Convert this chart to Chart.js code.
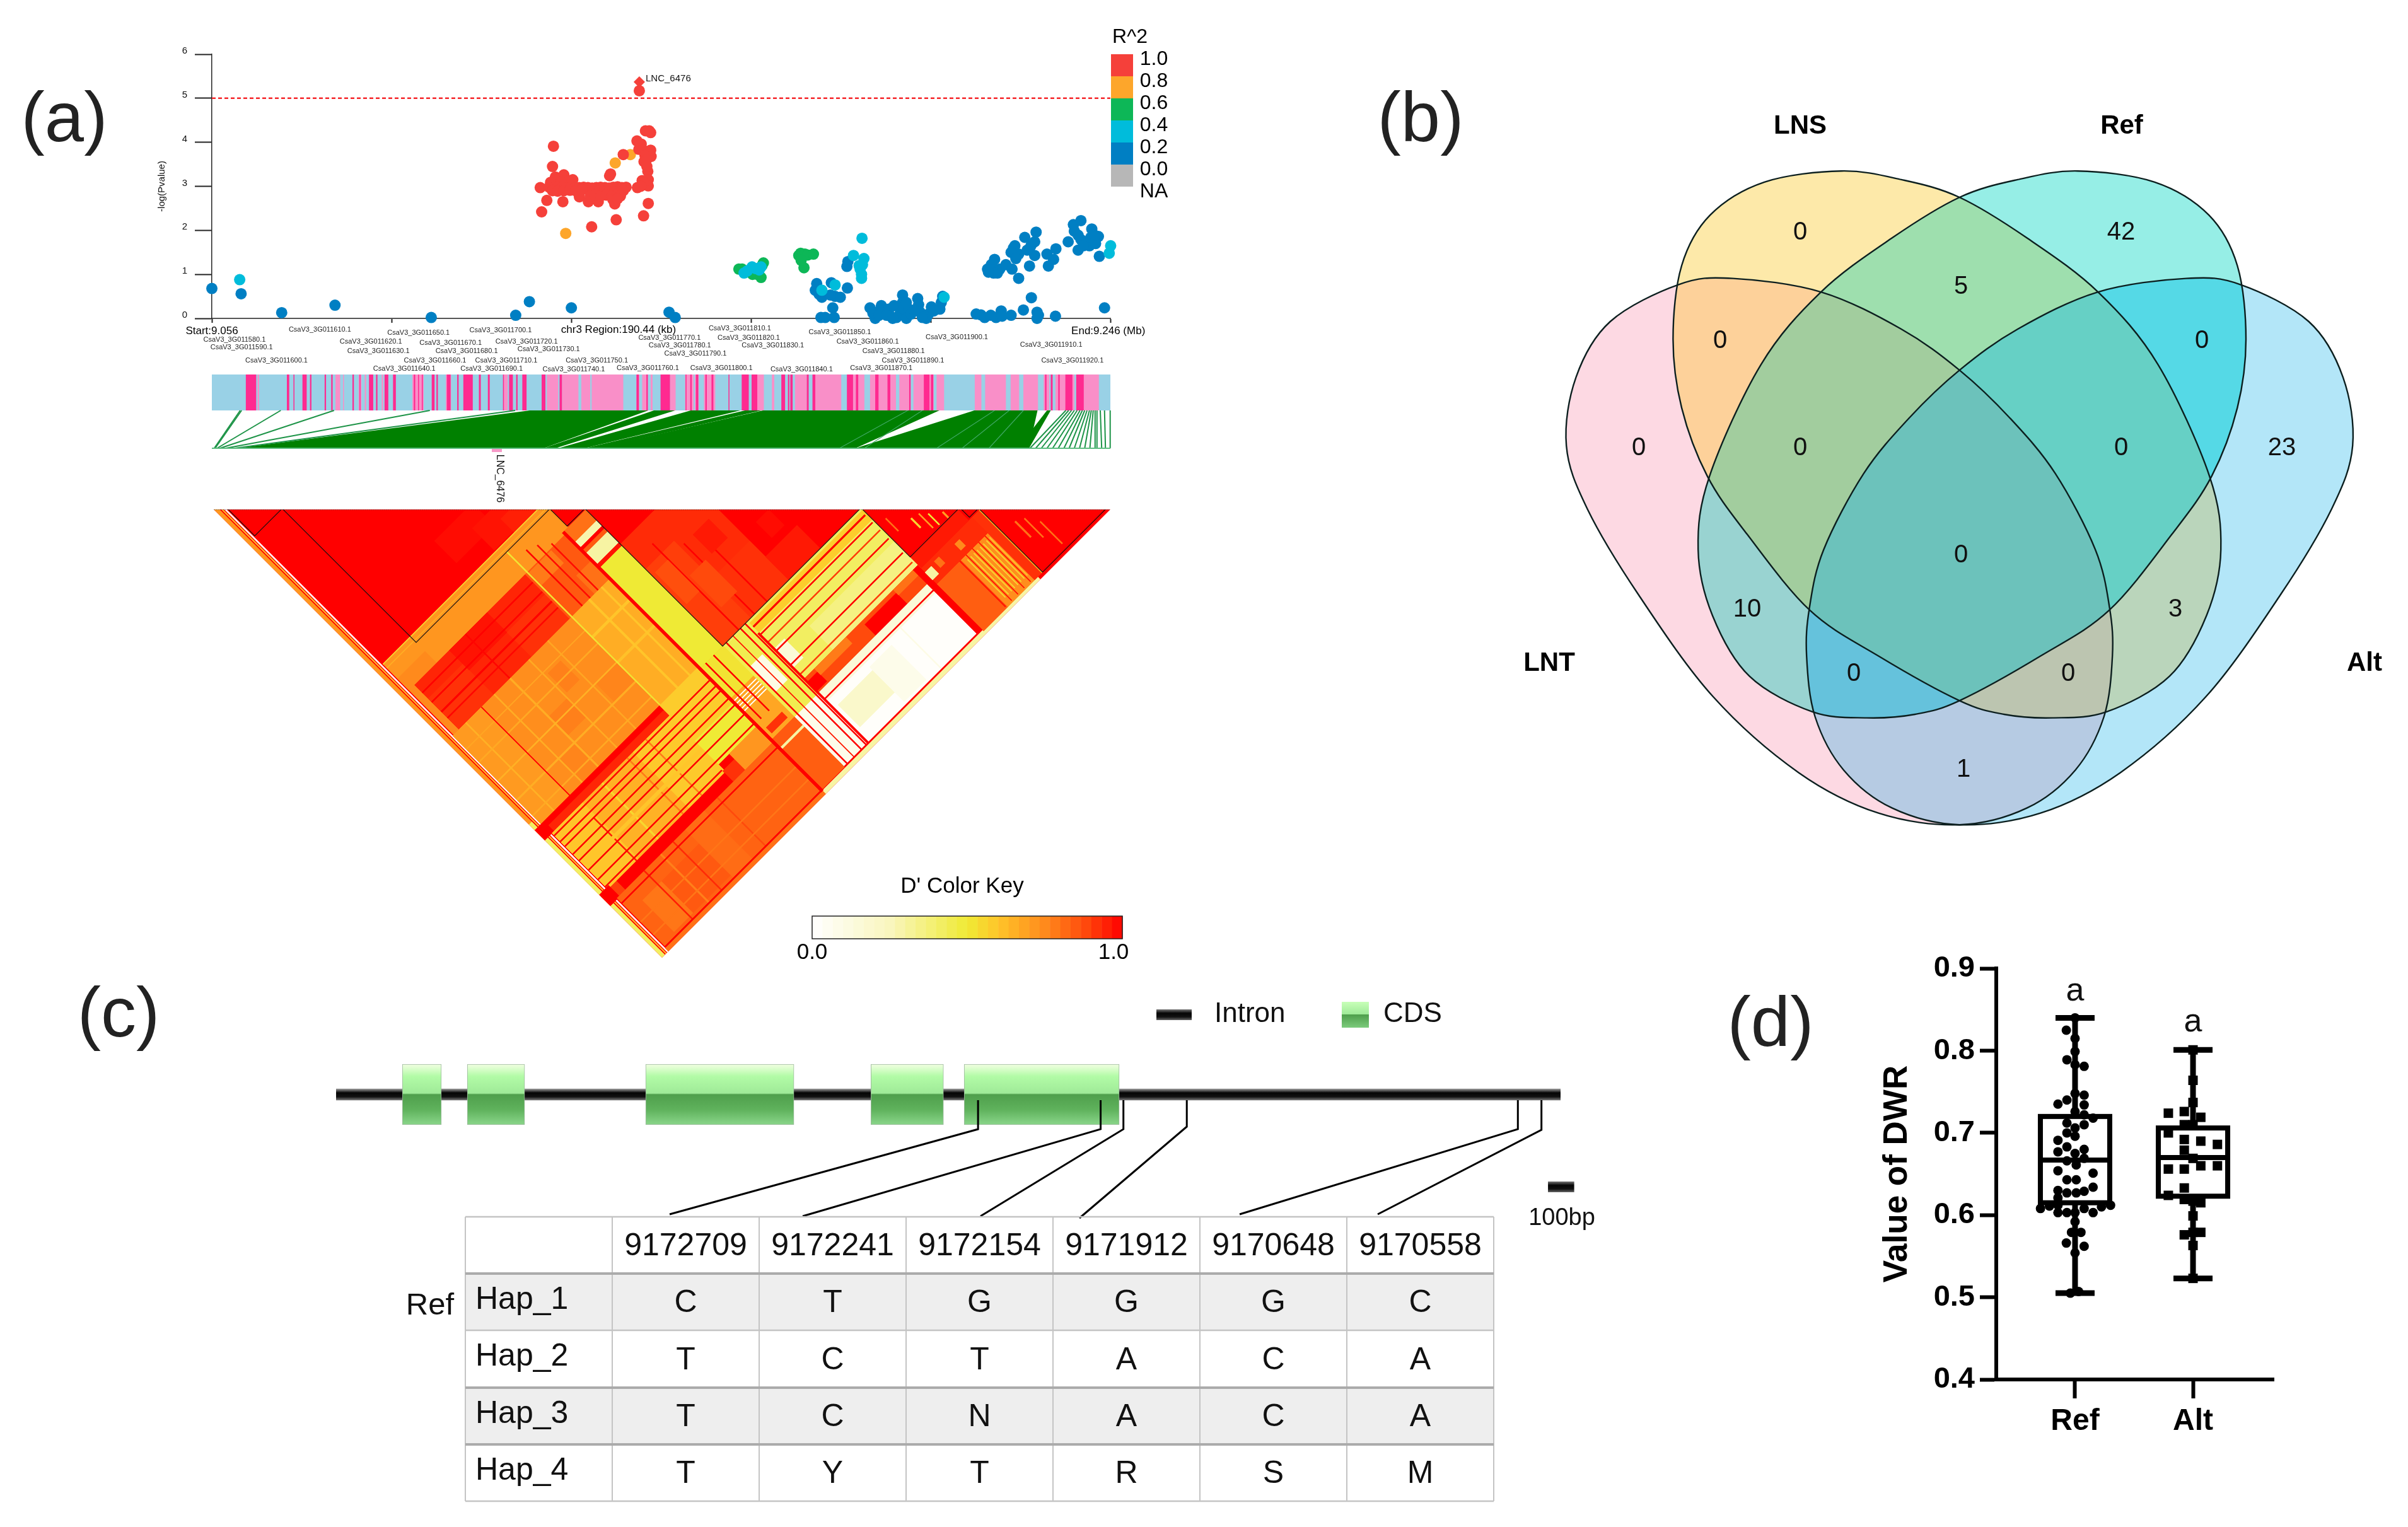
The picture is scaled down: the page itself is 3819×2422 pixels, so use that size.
<!DOCTYPE html>
<html>
<head>
<meta charset="utf-8">
<title>LNC_6476 association, Venn, haplotype and DWR panels</title>
<script src="https://cdn.jsdelivr.net/npm/chart.js@4/dist/chart.umd.min.js"></script>
<style>
  html, body { margin: 0; padding: 0; background: #fff; }
  #page { position: relative; width: 3819px; height: 2422px; overflow: hidden; background: #fff; }
  canvas { position: absolute; display: block; }
  .tag { position: absolute; font: 112px "Liberation Sans", sans-serif; color: #222; transform: translate(-50%, -50%); white-space: nowrap; }
</style>
</head>
<body>
<div id="page">
  <canvas id="assoc" width="1680" height="768" style="left:240px;top:40px"></canvas>
  <canvas id="ld" width="1480" height="730" style="left:339px;top:808px"></canvas>
  <canvas id="venn" width="1419" height="1260" style="left:2400px;top:100px"></canvas>
  <canvas id="gene" width="2100" height="840" style="left:500px;top:1560px"></canvas>
  <canvas id="dwr" width="700" height="800" style="left:2960px;top:1500px"></canvas>
  <div class="tag" style="left:102px;top:185px">(a)</div>
  <div class="tag" style="left:2253px;top:185px">(b)</div>
  <div class="tag" style="left:188px;top:1605px">(c)</div>
  <div class="tag" style="left:2808px;top:1620px">(d)</div>
</div>
<script>
// ---- panel (a): SNPs as [position in kb from region start, -log(P)] ----
const snpRed = [[90.6,5.17],[92.7,4.26],[91.9,4.26],[93.0,4.22],[90.1,4.03],[91.0,3.96],[90.5,3.84],[91.4,3.82],[93.0,3.82],[93.1,3.68],
  [91.8,3.70],[91.6,3.56],[92.1,3.60],[87.2,3.72],[92.4,3.34],[92.2,3.45],[84.5,3.28],[84.3,3.24],[92.5,3.15],[91.2,3.13],[92.5,3.01],
  [90.2,2.97],[91.5,3.08],[90.9,3.00],[72.4,3.91],[72.2,3.45],[74.6,3.26],[72.8,3.21],[71.8,3.09],[76.5,3.15],[75.5,3.12],[73.5,3.16],
  [74.0,3.10],[69.6,2.97],[71.0,2.68],[69.9,2.42],[74.4,2.65],[77.9,2.76],[79.8,2.65],[81.9,2.65],[85.4,2.60],[85.7,2.24],[80.5,2.08],
  [91.5,2.33],[92.5,2.61],[71.5,2.98],[72.5,2.97],[73.4,2.99],[74.3,2.98],[75.2,2.97],[76.1,2.98],[77.0,2.96],[77.9,2.97],[78.8,2.98],
  [79.7,2.97],[80.6,2.96],[81.5,2.97],[82.4,2.98],[83.3,2.97],[84.2,2.96],[85.1,2.98],[86.0,2.99],[86.9,2.97],[87.8,2.98],[72.2,2.90],
  [73.3,2.89],[74.6,2.90],[75.9,2.91],[77.1,2.90],[78.4,2.92],[80.9,2.88],[82.0,2.89],[83.1,2.88],[84.2,2.87],[85.3,2.88],[86.4,2.86],
  [87.2,2.90],[80.2,2.78],[81.2,2.80],[82.4,2.78],[83.6,2.80],[84.8,2.78],[85.9,2.80],[86.6,2.78],[85.0,2.70],[86.0,2.72]];
const snpOrange = [[88.7,3.72],[85.5,3.53],[75.0,1.93]];
const snpGreen = [[111.7,1.12],[112.4,1.12],[113.2,1.05],[114.6,1.00],[115.6,1.00],[116.9,1.26],[116.6,1.20],[116.4,0.93],[124.8,1.48],
  [124.4,1.43],[125.0,1.38],[125.7,1.46],[126.3,1.44],[127.5,1.46],[125.5,1.15],[124.9,1.32]];
const snpCyan = [[5.9,0.88],[112.8,1.03],[113.5,1.08],[114.5,1.17],[115.3,1.13],[116.4,1.17],[116.0,1.10],[129.3,0.64],[132.1,0.76],
  [136.0,1.43],[138.2,1.36],[137.4,1.12],[137.7,1.00],[137.7,0.91],[137.8,1.82],[137.9,1.22],[137.2,1.20],[155.2,0.48],[190.5,1.65],[190.2,1.48]];
const snpBlue = [[0,0.68],[6.2,0.56],[14.8,0.13],[26.1,0.30],[46.5,0.02],[64.4,0.07],[67.3,0.38],[76.2,0.24],[96.9,0.14],[98.2,0.02],
  [128.2,0.79],[127.9,0.64],[128.7,0.55],[129.3,0.48],[131.3,0.81],[134.7,0.69],[132.1,0.50],[133.2,0.48],[131.6,0.24],[129.1,0.02],
  [130.0,0.02],[131.9,0.02],[134.8,1.29],[134.6,1.18],[131.1,0.53],[139.5,0.24],[140.6,0],[141.9,0.29],[140.9,0.14],[142.4,0.17],[143.5,0.21],
  [143.8,0.05],[144.6,0.29],[145.1,0.02],[145.9,0.12],[146.4,0.53],[146.4,0.36],[146.7,0.21],[147.2,0],[147.7,0.21],[148.2,0.10],[149.6,0.45],
  [149.8,0.31],[150.1,0.14],[151.4,0],[151.9,0.10],[152.5,0.26],[153.0,0.17],[154.3,0.21],[154.9,0.50],[154.6,0.36],[140.1,0.12],[141.4,0.07],
  [143.0,0.07],[144.3,0],[150.6,0.02],[148.8,0.19],[147.2,0.36],[162.0,0.10],[163.0,0.08],[163.8,0.02],[165.1,0.07],[166.2,0.02],[167.3,0.17],
  [167.5,0.05],[169.4,0.07],[172.0,0.19],[173.7,0.47],[174.9,0.14],[174.9,0],[175.2,0.07],[178.8,0.05],[189.2,0.24],[164.4,1.12],[165.2,1.22],
  [165.9,1.34],[166.5,1.03],[167.0,1.12],[165.7,1.03],[164.6,1.05],[168.3,1.22],[169.6,1.12],[169.9,1.60],[171.0,1.46],[170.2,1.65],[169.4,1.50],
  [170.4,1.36],[171.0,0.91],[172.3,1.84],[173.6,1.65],[173.3,1.19],[174.7,1.96],[174.4,1.74],[174.4,1.43],[172.8,1.55],[177.3,1.19],[177.0,1.46],
  [178.4,1.34],[178.9,1.58],[181.5,1.74],[182.6,2.13],[184.2,2.22],[182.8,1.98],[183.6,1.89],[183.6,1.55],[184.2,1.79],[185.2,1.74],[186.5,2.03],
  [186.0,1.65],[187.9,1.86],[187.3,1.70],[188.1,1.41],[186.3,1.84],[184.7,1.65],[187.1,1.89]];
const leadSnp = [[90.6,5.37]];
const threshold = [[0,5],[190.44,5]];

const r2Labels = ['1.0','0.8','0.6','0.4','0.2','0.0','NA'];
const r2Colors = ['#F5403A','#FDA62B','#0DB757','#00BCDB','#007FC3','#B7B7B7'];

const geneNames = ['580','590','600','610','620','630','640','650','660','670','680','690','700','710','720','730','740','750','760','770','780',
  '790','800','810','820','830','840','850','860','870','880','890','900','910','920'];
const geneKb = [4.8,6.3,13.7,22.9,33.7,35.3,40.8,43.8,47.3,50.6,54.0,59.3,61.2,62.4,66.7,71.4,76.7,81.6,92.4,97.0,99.2,
  102.5,108.0,111.9,113.8,118.9,125.0,133.1,139.0,141.9,144.5,148.6,157.9,177.9,182.4];
const geneDrop = [34,46,67,18,37,52,80,23,67,39,52,80,19,67,37,49,81,67,79,31,43,56,79,16,31,43,81,22,37,79,52,67,30,42,67];

// annotation track, intervals in kb
const trackHot = [[7.2,9.4],[15.9,16.4],[17.3,17.5],[19.2,20.1],[20.8,21.1],[23.9,24.2],[25.3,25.6],[29.8,30.1],[31.3,31.5],[33.3,34.2],[34.8,35.1],
  [36.6,37.4],[38.4,39.0],[42.8,43.1],[43.7,43.9],[44.5,44.7],[46.6,47.2],[47.6,47.9],[49.8,50.6],[52.0,52.3],[53.3,55.3],[56.6,57.0],[58.5,58.9],
  [61.7,61.9],[63.0,63.8],[64.5,64.8],[65.8,66.7],[69.9,70.7],[73.7,74.2],[90.0,90.5],[92.1,92.4],[95.1,97.1],[100.4,100.6],[101.4,101.7],[102.6,103.1],
  [104.6,104.9],[105.9,106.3],[109.5,109.7],[112.3,113.8],[114.4,115.6],[120.7,121.5],[122.1,122.4],[122.6,123.1],[126.1,126.5],[127.3,127.9],
  [134.6,135.9],[136.5,137.0],[140.6,141.3],[143.2,143.8],[147.8,148.1],[150.9,152.1],[152.4,152.9],[176.6,176.9],[177.8,178.2],[179.4,179.7],
  [180.9,182.4],[183.2,184.8]];
const trackPale = [[9.7,10.0],[26.2,27.2],[27.8,28.0],[31.1,31.7],[32.4,32.7],[36.0,36.3],[42.5,44.9],[49.6,50.7],[61.8,62.7],[71.0,73.4],[74.2,77.7],
  [78.3,80.2],[80.5,87.2],[90.0,90.6],[91.2,92.4],[93.0,93.4],[97.1,98.3],[100.3,102.1],[102.4,103.2],[104.3,106.7],[115.6,117.0],[118.7,119.2],
  [123.6,126.1],[127.9,133.4],[135.9,138.3],[139.5,145.0],[145.7,148.1],[148.7,153.0],[153.6,155.2],[161.7,163.1],[163.9,168.3],[169.3,171.1],
  [172.0,175.1],[176.3,177.5],[178.8,182.8],[183.2,188.0]];

// green fan between the track and the evenly spaced SNP row: [topFrom, topTo, bottomFrom, bottomTo] in kb
const fanWedges = [[67.4,92.5,5.3,70.3],[93.7,98.2,70.3,72.8],[101.5,112.0,73.4,79.0],[113.0,116.5,79.0,82.0],[116.8,154.2,81.4,136.4],
  [161.6,175.0,136.4,173.2],[177.0,177.8,170.8,173.2]];
const fanLineTop = [6.0,6.3,14.6,25.9,46.2,64.3,181,181.6,182.2,182.8,183.4,184,184.5,185,185.5,186,186.4,186.8,187.2,187.6,188.3,189.2,190.4];
const fanLineBottom = [0.5,0.7,1.1,1.7,2.9,4.8,173.4,174.6,175.8,177,178.2,179.4,180.6,181.7,182.8,183.9,185,186.1,187.2,187.6,188.6,189.4,190.4];
const fanStreakTop = [150.6,147.5,165.9,169.0,172.0];
const fanStreakBottom = [138.3,133.0,153.6,159.0,164.7];

// ---- LD heatmap: [i from, i to, j from, j to, D'] on a 0-1422 SNP axis, painted in order ----
const ldPatches = [
  [0,1422,0,1422,1],
  // strips along the left edge
  [0,9,0,1000,.72],[0,9,1000,1422,.42],[12,14.5,0,1422,.62],[17,20,0,1422,0],
  // faint mottling in the first long block
  [300,420,400,470,.98],[380,500,440,510,.97],[440,510,470,513,.95],
  // orange strip under the first long block
  [23,532,515,597,.72],[23,532,513,515,.55],[23,532,525,527,.66],[23,110,560,597,.75],[391,534,532,597,.72],
  // deep red band and its neighbour
  [23,40,597,738,.75],[40,391,597,738,.94],[40,150,640,738,.92],[150,270,597,660,.97],[270,391,660,738,.92],
  [40,391,620,623,1],[40,391,650,653,1],[40,391,680,684,1],[40,391,700,703,.99],[200,203,597,738,.99],
  [391,534,597,738,.85],[400,470,600,640,.78],[470,534,680,738,.8],[430,433,560,738,1],[455,458,570,738,.98],[480,483,590,738,.98],
  // big orange diamond
  [20,396,738,1018,.74],[20,110,738,1018,.71],[270,310,790,850,.77],[200,260,860,920,.77],[330,396,880,940,.76],[150,205,940,1018,.76],
  [200,204,738,1018,.66],[150,153,738,1018,.66],[260,263,738,1018,.67],[320,323,738,1018,.68],[60,63,738,1018,.65],
  [20,396,820,823,.67],[20,396,880,883,.65],[20,396,940,944,.66],[20,396,780,782,.68],[20,396,990,993,.67],
  [110,112,738,1018,1],
  [399,525,738,1018,.66],[399,525,800,806,.6],[399,525,880,886,.61],[450,455,738,1018,.6],[490,494,738,1018,.6],
  [396,399,532,1018,.52],
  // first thick band and the stripes below it
  [0,396,1018,1050,1],[30,396,1032,1050,.94],
  [23,396,1050,1228,.65],[23,120,1050,1228,.6],[280,396,1050,1228,.59],[180,184,1050,1228,.55],[260,263,1050,1228,.78],[319,322,1050,1228,.78],
  [112,115,1090,1228,.95],[23,396,1150,1158,.6],
  [396,518,1018,1130,.58],[396,518,1130,1205,.5],[392,430,1222,1256,.92],[430,518,1205,1256,.72],
  [23,518,1056,1059,1],[23,518,1075,1078,1],[23,518,1090,1093,1],[23,518,1115,1118,1],[23,518,1135,1138,1],[23,518,1165,1168,1],[23,518,1195,1198,1],[23,392,1218,1221,1],
  // second thick band, bottom corner
  [0,50,1228,1256,.9],[50,392,1228,1256,1],[0,30,1222,1258,1],
  [23,520,1256,1412,.83],[120,240,1300,1400,.85],[60,120,1300,1400,.79],[240,300,1256,1412,.81],[160,164,1256,1412,.77],[340,343,1256,1412,.88],
  [23,520,1330,1333,.79],[23,520,1370,1373,.79],[108,111,1256,1410,.95],[200,203,1256,1410,.93],[23,520,1270,1273,1],[23,520,1408,1412,1],[20,520,1412,1422,.8],
  // re-cut the left strips through the bands
  [0,9,1058,1222,.42],[17,20,1058,1222,0],
  // yellow block with its pale head
  [522,590,590,625,.8],[522,590,625,642,.28],[522,590,642,650,1],[522,590,650,660,.85],[522,590,660,695,.3],[522,590,695,705,.97],[522,590,705,1024,.5],
  // red thick column
  [515,522,590,1412,1],
  // second long block, tinted at its lower left
  [590,800,700,1024,.93],[590,680,780,1024,.9],[680,800,900,1024,.92],[800,900,950,1024,.96],[640,643,750,1024,1],[690,693,800,1024,1],[730,733,850,1024,1],
  [600,640,800,900,.87],[650,700,860,960,.88],[720,770,800,860,.96],[840,880,880,930,.98],
  // pale yellow stripes
  [590,1029,1024,1205,.42],[590,1029,1030,1060,.58],[640,700,1110,1170,.15],[590,640,1060,1110,.6],[760,1029,1130,1205,.36],
  [600,1024,1040,1044,1],[600,1024,1064,1067,1],[600,1024,1088,1091,.9],[600,1024,1115,1118,1],[600,1024,1160,1163,1],[600,1024,1190,1193,.9],
  // dotted red-orange band
  [600,1030,1205,1250,.88],[600,700,1215,1245,1],[700,800,1205,1225,.78],[850,950,1215,1250,1],[950,1030,1205,1222,.8],
  // white box
  [669,1013,1250,1277,.15],[669,1013,1268,1271,1],[669,1013,1277,1409,.02],[680,790,1300,1370,.2],[790,860,1290,1400,.08],[900,903,1277,1409,.1],
  [592,669,1250,1409,.08],[590,669,1030,1250,.45],[600,640,1100,1180,.1],
  [600,603,1024,1409,1],[622,624,1024,1409,.95],[645,648,1024,1409,1],[660,663,1024,1409,1],[665,670,1060,1412,1],
  [520,1030,1407,1411,1],[520,1200,1411,1422,.3],
  // column between the red column and the white box
  [522,592,1024,1120,.52],[522,592,1120,1250,.68],[522,592,1128,1130,0],[522,592,1136,1138,0],[522,592,1144,1146,0],[522,592,1152,1154,0],[522,592,1160,1162,0],
  [530,580,1222,1240,.92],[522,592,1250,1282,.85],[522,592,1276,1282,.3],[522,592,1282,1409,.84],[535,538,1024,1200,1],[560,563,1024,1200,1],
  [515,522,1024,1412,1],
  // stripes against the last long block
  [1028,1105,1265,1414,.84],[1105,1190,1265,1414,.74],[1190,1212,1215,1414,.92],[1028,1190,1215,1265,.93],
  [1115,1117,1275,1395,.55],[1125,1127,1275,1395,.55],[1135,1137,1275,1395,.55],[1145,1147,1275,1395,.55],[1155,1157,1275,1395,.55],[1165,1167,1275,1395,.55],
  [1175,1177,1275,1395,.55],[1185,1187,1275,1395,.6],[1100,1103,1265,1410,.96],[1120,1122,1265,1410,.96],[1140,1142,1265,1410,.96],[1160,1162,1265,1410,.96],
  [1180,1182,1265,1410,.96],[1013,1028,1205,1410,1],[1028,1048,1228,1252,.3],[1029,1180,1180,1215,.96],
  // speckle inside the right blocks
  [1212,1215,1215,1414,.7],[1250,1254,1290,1340,.8],[1270,1273,1300,1360,.8],[1290,1293,1330,1400,.8],[1090,1094,1120,1150,.55],[1110,1113,1125,1170,.7],
  [1125,1128,1140,1175,.5],[1050,1053,1080,1120,.8],[1150,1154,1160,1178,.7],[1060,1075,1225,1245,.8],[1120,1135,1230,1250,.75]
];
// LD blocks outlined in black: [first SNP, last SNP]
const ldBlocks = [[23,107],[110,532],[534,587],[590,1024],[1029,1180],[1186,1211],[1215,1414]];
const ldStops = [0,.25,.5,.6,.75,.88,1];
const ldRamp = [[255,255,255],[249,246,190],[239,234,53],[255,197,42],[255,138,28],[255,74,12],[255,0,0]];

// ---- panel (b) ----
const vennSets = ['LNS','Ref','LNT','Alt'];
const vennLNTx = [348.4,488.7,615.4,707.7,787.3,859.7,923.1,945.7,950.2,936.7,891.4,814.5,707.7,579.2,452.5,316.7,199.1,117.6,84.2,99.5,153.8,262.4];
const vennAltx = [1067,926.7,800,707.7,628.1,555.7,492.3,469.7,465.2,478.7,524,600.9,707.7,836.2,962.9,1098.7,1216.3,1297.8,1331.2,1315.9,1261.6,1153];
const vennBigY = [341.6,363.3,422,487.1,562.7,651.1,771.7,864.1,940.5,1037,1121.4,1181.7,1208.2,1189.7,1125.4,1004.8,844,707.4,606.9,498.4,410,351.3];
const vennLNSx = [520.4,615.4,707.7,814.5,927.6,1022.6,1104.1,1122.2,1099.5,1040.7,941.2,855.2,778.3,707.7,579.2,470.6,371,307.7,267,253.4,267,312.2,398.2];
const vennRefx = [895,800,707.7,600.9,487.8,392.8,311.3,293.2,315.9,374.7,474.2,560.2,637.1,707.7,836.2,944.8,1044.4,1107.7,1148.4,1162,1148.4,1103.2,1017.2];
const vennTopY = [171.2,184.9,213,277.3,363.3,478.3,655.1,771.7,876.2,972.7,1028.9,1038.6,1033,1011.3,940.5,868.2,747.6,655.1,546.6,438.1,321.5,241.2,188.9];
const vennCounts = ['0','42','5','0','0','0','0','0','23','0','10','3','0','0','1'];
const vennCountX = [455,964,710,328,1092,199,455,964,1219,710,371,1050,540,880,714];
const vennCountY = [269,269,355,441,441,611,611,611,611,781,867,867,969,969,1121];
// overlap colours, T=LNT N=LNS R=Ref A=Alt, singles first so bigger overlaps paint over them
const vennRegions = ['T','N','R','A','TN','NR','RA','TR','NA','TA','TNR','NRA','TRA','TNA','TNRA'];
const vennRegionColors = ['#FDD9E3','#FDE9A9','#96EEE6','#B3E6F8','#FDD19A','#9EDFAE','#55D9E6','#99D3D1','#BAD5BB','#B6CBE3','#A2CD9E','#66D0C5','#65C2DC','#BCC5B0','#6CC2BB'];

// ---- panel (c) ----
const exonStart = [9174907,9174659,9173978,9173118,9172762];
const exonEnd = [9174758,9174440,9173412,9172841,9172170];
const geneSpan = [9175160,9170485];
const snpSites = [9172709,9172241,9172154,9171912,9170648,9170558];
const hapNames = ['Hap_1','Hap_2','Hap_3','Hap_4'];
const hapAlleles = [['C','T','G','G','G','C'],['T','C','T','A','C','A'],['T','C','N','A','C','A'],['T','Y','T','R','S','M']];

// ---- panel (d) ----
const dwrGroups = ['Ref','Alt'];
const dwrQ1 = [.615,.623], dwrMedian = [.667,.670], dwrQ3 = [.720,.706], dwrLow = [.505,.523], dwrHigh = [.840,.801];
const dwrRef = [[-.04,.505],[.03,.507],[0,.554],[-.074,.566],[.077,.562],[-.03,.579],[.05,.579],[0,.592],[-.145,.603],[-.069,.603],[0,.603],[.077,.608],[.153,.603],
  [-.293,.608],[-.217,.611],[-.145,.612],[.224,.610],[.301,.612],[-.145,.621],[-.145,.630],[-.069,.627],[.01,.627],[.077,.629],[.153,.634],[-.069,.643],[.01,.643],
  [-.145,.654],[.153,.651],[.01,.661],[-.069,.666],[.077,.669],[-.145,.677],[0,.675],[.077,.680],[-.069,.683],[-.145,.691],[-.069,.700],[0,.696],[-.069,.712],
  [0,.706],[.077,.710],[.153,.718],[.077,.722],[0,.726],[-.145,.735],[-.069,.740],[0,.748],[.077,.734],[.077,.746],[.077,.781],[0,.783],[-.069,.789],[0,.799],
  [0,.815],[-.074,.825],[0,.840]];
const dwrAlt = [[1,.523],[1,.563],[.926,.576],[1,.579],[1.066,.579],[1,.599],[.926,.619],[1,.617],[1.066,.615],[.791,.624],[.926,.633],[.791,.656],[.926,.656],
  [1.066,.660],[1.207,.660],[1,.669],[.926,.679],[.926,.692],[1.066,.690],[1.207,.686],[.791,.700],[.926,.710],[1,.710],[1.066,.719],[.926,.726],[.791,.724],
  [1,.737],[1,.764],[1,.801]];

const SANS = '"Liberation Sans", Arial, sans-serif';
const toXY = p => ({ x: p[0], y: p[1] });

function txt(ctx, s, x, y, font, align, color) {
  ctx.font = font;
  ctx.textAlign = align || 'center';
  ctx.textBaseline = 'middle';
  ctx.fillStyle = color || '#000';
  ctx.fillText(s, x, y);
}

function ldColor(v) {
  let k = 1;
  while (k < ldStops.length - 1 && v > ldStops[k]) k++;
  const t = (v - ldStops[k - 1]) / (ldStops[k] - ldStops[k - 1]);
  const c = ldRamp[k - 1].map((a, n) => Math.round(a + (ldRamp[k][n] - a) * t));
  return `rgb(${c[0]},${c[1]},${c[2]})`;
}

function baseOptions(padding) {
  return {
    responsive: false,
    animation: false,
    devicePixelRatio: 1,
    layout: { padding, autoPadding: false },
    plugins: { legend: { display: false }, tooltip: { enabled: false } }
  };
}

// ---- panel (a) chart ----
const assocPlugin = {
  id: 'assocExtras',
  beforeDatasetsDraw(chart) {
    const { ctx, scales: { x } } = chart;
    const px = v => x.getPixelForValue(v);
    const trackTop = 554, trackBottom = 611, fanBottom = 671;
    ctx.save();
    // track
    ctx.fillStyle = '#99D1E6';
    ctx.fillRect(px(0), trackTop, px(190.44) - px(0), trackBottom - trackTop);
    ctx.fillStyle = '#F98FC8';
    trackPale.forEach(s => ctx.fillRect(px(s[0]), trackTop, px(s[1]) - px(s[0]), trackBottom - trackTop));
    ctx.fillStyle = '#FF2A90';
    trackHot.forEach(s => ctx.fillRect(px(s[0]), trackTop, px(s[1]) - px(s[0]), trackBottom - trackTop));
    // fan
    ctx.fillStyle = '#008000';
    fanWedges.forEach(w => {
      ctx.beginPath();
      ctx.moveTo(px(w[0]), trackBottom);
      ctx.lineTo(px(w[1]), trackBottom);
      ctx.lineTo(px(w[3]), fanBottom);
      ctx.lineTo(px(w[2]), fanBottom);
      ctx.closePath();
      ctx.fill();
    });
    ctx.strokeStyle = '#1E9448';
    ctx.lineWidth = 2;
    fanLineTop.forEach((t, n) => {
      ctx.beginPath();
      ctx.moveTo(px(t), trackBottom);
      ctx.lineTo(px(fanLineBottom[n]), fanBottom);
      ctx.stroke();
    });
    ctx.strokeStyle = '#3FA865';
    ctx.lineWidth = 1.2;
    fanStreakTop.forEach((t, n) => {
      ctx.beginPath();
      ctx.moveTo(px(t), trackBottom);
      ctx.lineTo(px(fanStreakBottom[n]), fanBottom);
      ctx.stroke();
    });
    ctx.fillStyle = '#5DBE80';
    ctx.fillRect(px(0), fanBottom - 1, px(190.44) - px(0), 2);
    // LNC_6476 tag under the fan
    ctx.fillStyle = '#F79AC8';
    ctx.fillRect(540, fanBottom + 1, 16, 5);
    ctx.translate(552, 719);
    ctx.rotate(Math.PI / 2);
    txt(ctx, 'LNC_6476', 0, 0, `16px ${SANS}`, 'center', '#111');
    ctx.restore();
  },
  afterDatasetsDraw(chart) {
    const { ctx, scales: { x, y } } = chart;
    txt(ctx, 'LNC_6476', 784, 85, `15px ${SANS}`, 'left', '#111');
    // axis captions
    txt(ctx, 'Start:9.056', x.getPixelForValue(0), 485, `17px ${SANS}`);
    txt(ctx, 'chr3 Region:190.44 (kb)', x.getPixelForValue(86.2), 483, `17px ${SANS}`);
    txt(ctx, 'End:9.246 (Mb)', x.getPixelForValue(190), 485, `17px ${SANS}`);
    // gene names
    geneNames.forEach((g, n) => {
      txt(ctx, 'CsaV3_3G011' + g + '.1', x.getPixelForValue(geneKb[n]), y.getPixelForValue(0) + geneDrop[n], `11px ${SANS}`, 'center', '#222');
    });
    // R^2 legend
    txt(ctx, 'R^2', 1552, 19, `32px ${SANS}`);
    r2Colors.forEach((c, n) => {
      ctx.fillStyle = c;
      ctx.fillRect(1522, 46 + n * 35, 35, 35);
    });
    r2Labels.forEach((l, n) => txt(ctx, l, 1590, 54 + n * 35, `32px ${SANS}`));
  }
};

function snpSet(points, color) {
  return { data: points.map(toXY), backgroundColor: color, borderWidth: 0, pointRadius: 9, clip: false };
}

new Chart(document.getElementById('assoc'), {
  type: 'scatter',
  data: {
    datasets: [
      { data: leadSnp.map(toXY), backgroundColor: r2Colors[0], pointStyle: 'rectRot', pointRadius: 9, borderWidth: 0, clip: false },
      snpSet(snpCyan, r2Colors[3]),
      snpSet(snpRed, r2Colors[0]),
      snpSet(snpOrange, r2Colors[1]),
      snpSet(snpGreen, r2Colors[2]),
      snpSet(snpBlue, r2Colors[4]),
      { data: threshold.map(toXY), showLine: true, borderColor: '#F5262A', borderWidth: 2.5, borderDash: [6, 4], pointRadius: 0 }
    ]
  },
  options: Object.assign(baseOptions({ left: 0, top: 46, right: 159, bottom: 273 }), {
    scales: {
      x: {
        type: 'linear', min: 0, max: 190.44,
        afterFit(s) { s.height = 30; },
        afterBuildTicks(s) { s.ticks = [0, 38.088, 76.176, 114.264, 152.352, 190.44].map(value => ({ value })); },
        grid: { drawOnChartArea: false, tickLength: 7, tickWidth: 2, tickColor: '#222' },
        border: { color: '#555', width: 2 },
        ticks: { display: false }
      },
      y: {
        type: 'linear', min: 0, max: 6,
        afterFit(s) { s.width = 96; },
        grid: { drawOnChartArea: false, tickLength: 27, tickWidth: 2, tickColor: '#222' },
        border: { color: '#222', width: 1.5 },
        ticks: { stepSize: 1, padding: 12, labelOffset: -5, color: '#111', font: { family: SANS, size: 15 } },
        title: { display: true, text: '-log(Pvalue)', color: '#111', padding: { top: 8, bottom: 0 }, font: { family: SANS, size: 15 } }
      }
    }
  }),
  plugins: [assocPlugin]
});

// ---- LD heatmap chart ----
const ldPlugin = {
  id: 'ldCells',
  beforeDatasetsDraw(chart) {
    const { ctx, scales: { x, y } } = chart;
    const pt = (i, j) => [x.getPixelForValue((i + j) / 2), y.getPixelForValue((j - i) / 2)];
    ctx.save();
    ctx.beginPath();
    ctx.moveTo(...pt(0, 0));
    ctx.lineTo(...pt(1422, 1422));
    ctx.lineTo(...pt(0, 1422));
    ctx.closePath();
    ctx.clip();
    ctx.lineWidth = 0.6;
    ldPatches.forEach(p => {
      const c = ldColor(p[4]);
      ctx.fillStyle = c;
      ctx.strokeStyle = c;
      ctx.beginPath();
      ctx.moveTo(...pt(p[0], p[2]));
      ctx.lineTo(...pt(p[1], p[2]));
      ctx.lineTo(...pt(p[1], p[3]));
      ctx.lineTo(...pt(p[0], p[3]));
      ctx.closePath();
      ctx.fill();
      ctx.stroke();
    });
    ctx.restore();
    ctx.save();
    ctx.strokeStyle = '#111';
    ctx.lineWidth = 1.1;
    ldBlocks.forEach(b => {
      ctx.beginPath();
      ctx.moveTo(...pt(b[0], b[0]));
      ctx.lineTo(...pt(b[0], b[1]));
      ctx.lineTo(...pt(b[1], b[1]));
      ctx.stroke();
    });
    ctx.setLineDash([2, 1]);
    ctx.strokeStyle = '#333';
    ctx.beginPath();
    ctx.moveTo(...pt(0, 0));
    ctx.lineTo(...pt(1422, 1422));
    ctx.stroke();
    ctx.restore();
    // colour key
    const left = 949, top = 645, w = 492, h = 36, bins = 30;
    for (let n = 0; n < bins; n++) {
      ctx.fillStyle = ldColor((n + 0.5) / bins);
      ctx.fillRect(left + n * w / bins, top, w / bins + 0.5, h);
    }
    ctx.strokeStyle = '#222';
    ctx.lineWidth = 1.5;
    ctx.strokeRect(left, top, w, h);
    txt(ctx, "D' Color Key", 1187, 598, `35px ${SANS}`);
    txt(ctx, '0.0', 949, 703, `35px ${SANS}`);
    txt(ctx, '1.0', 1427, 703, `35px ${SANS}`);
  }
};

new Chart(document.getElementById('ld'), {
  type: 'scatter',
  data: { datasets: [] },
  options: Object.assign(baseOptions({ left: 0, top: 0, right: 58, bottom: 19 }), {
    scales: {
      x: { type: 'linear', min: 0, max: 1422, display: false },
      y: { type: 'linear', min: 0, max: 711, reverse: true, display: false }
    }
  }),
  plugins: [ldPlugin]
});

// ---- panel (b) chart ----
function blobPath(ctx, xs, ys, sx, sy) {
  const n = xs.length;
  const P = k => [sx.getPixelForValue(xs[(k + n) % n]), sy.getPixelForValue(ys[(k + n) % n])];
  ctx.beginPath();
  ctx.moveTo(...P(0));
  for (let k = 0; k < n; k++) {
    const a = P(k - 1), b = P(k), c = P(k + 1), d = P(k + 2);
    ctx.bezierCurveTo(b[0] + (c[0] - a[0]) / 6, b[1] + (c[1] - a[1]) / 6, c[0] - (d[0] - b[0]) / 6, c[1] - (d[1] - b[1]) / 6, c[0], c[1]);
  }
  ctx.closePath();
}

const vennPlugin = {
  id: 'vennShapes',
  afterDatasetsDraw(chart) {
    const { ctx, width, height, scales: { x, y } } = chart;
    const shapes = { T: [vennLNTx, vennBigY], A: [vennAltx, vennBigY], N: [vennLNSx, vennTopY], R: [vennRefx, vennTopY] };
    vennRegions.forEach((r, n) => {
      ctx.save();
      r.split('').forEach(key => {
        blobPath(ctx, shapes[key][0], shapes[key][1], x, y);
        ctx.clip();
      });
      ctx.fillStyle = vennRegionColors[n];
      ctx.fillRect(0, 0, width, height);
      ctx.restore();
    });
    ctx.save();
    ctx.strokeStyle = '#0C1F1F';
    ctx.lineWidth = 2.4;
    Object.values(shapes).forEach(s => {
      blobPath(ctx, s[0], s[1], x, y);
      ctx.stroke();
    });
    ctx.restore();
    vennCounts.forEach((c, n) => txt(ctx, c, x.getPixelForValue(vennCountX[n]), y.getPixelForValue(vennCountY[n]), `40px ${SANS}`, 'center', '#111'));
    const bold = `bold 42px ${SANS}`;
    txt(ctx, vennSets[0], x.getPixelForValue(455), y.getPixelForValue(100), bold);
    txt(ctx, vennSets[1], x.getPixelForValue(965), y.getPixelForValue(100), bold);
    txt(ctx, vennSets[2], x.getPixelForValue(57), y.getPixelForValue(952), bold);
    txt(ctx, vennSets[3], x.getPixelForValue(1350), y.getPixelForValue(952), bold);
  }
};

new Chart(document.getElementById('venn'), {
  type: 'scatter',
  data: { datasets: [] },
  options: Object.assign(baseOptions(0), {
    scales: {
      x: { type: 'linear', min: 0, max: 1419, display: false },
      y: { type: 'linear', min: 0, max: 1260, reverse: true, display: false }
    }
  }),
  plugins: [vennPlugin]
});

// ---- panel (c) chart ----
function exonFill(c) {
  const a = c.chart.chartArea;
  if (!a) return '#8FDB8F';
  const mid = (a.top + a.bottom) / 2;
  const g = c.chart.ctx.createLinearGradient(0, mid - 48, 0, mid + 48);
  g.addColorStop(0, '#F2FFE2');
  g.addColorStop(0.2, '#B2FBA6');
  g.addColorStop(0.48, '#9FEA98');
  g.addColorStop(0.5, '#4F9F4C');
  g.addColorStop(0.75, '#5FB25C');
  g.addColorStop(1, '#8AD68A');
  return g;
}
function intronFill(c) {
  const a = c.chart.chartArea;
  if (!a) return '#000';
  const mid = (a.top + a.bottom) / 2;
  const g = c.chart.ctx.createLinearGradient(0, mid - 9, 0, mid + 9);
  g.addColorStop(0, '#9A9A9A');
  g.addColorStop(0.35, '#050505');
  g.addColorStop(0.7, '#111');
  g.addColorStop(1, '#777');
  return g;
}

const genePlugin = {
  id: 'geneExtras',
  afterDatasetsDraw(chart) {
    const { ctx, scales: { x } } = chart;
    const down = [231, 231, 231, 227, 231, 232];
    const endX = [562, 773, 1055, 1212, 1466, 1685];
    const endY = [366, 369, 369, 372, 366, 366];
    ctx.save();
    ctx.strokeStyle = '#000';
    ctx.lineWidth = 3;
    snpSites.forEach((s, n) => {
      ctx.beginPath();
      ctx.moveTo(x.getPixelForValue(s), 185);
      ctx.lineTo(x.getPixelForValue(s), down[n]);
      ctx.lineTo(endX[n], endY[n]);
      ctx.stroke();
    });
    ctx.restore();

    // legend
    let g = ctx.createLinearGradient(0, 41, 0, 58);
    g.addColorStop(0, '#777'); g.addColorStop(0.35, '#050505'); g.addColorStop(0.7, '#111'); g.addColorStop(1, '#666');
    ctx.fillStyle = g;
    ctx.fillRect(1334, 41, 56, 17);
    txt(ctx, 'Intron', 1426, 49, `44px ${SANS}`, 'left', '#111');
    g = ctx.createLinearGradient(0, 29, 0, 70);
    g.addColorStop(0, '#C8FFB8'); g.addColorStop(0.48, '#9FEA98'); g.addColorStop(0.5, '#4F9F4C'); g.addColorStop(1, '#7CCB7C');
    ctx.fillStyle = g;
    ctx.fillRect(1628, 29, 43, 41);
    txt(ctx, 'CDS', 1694, 49, `44px ${SANS}`, 'left', '#111');

    // 100 bp scale bar, sized by the axis
    g = ctx.createLinearGradient(0, 314, 0, 331);
    g.addColorStop(0, '#777'); g.addColorStop(0.35, '#050505'); g.addColorStop(0.7, '#111'); g.addColorStop(1, '#666');
    ctx.fillStyle = g;
    const barL = x.getPixelForValue(9170533), barR = x.getPixelForValue(9170433);
    ctx.fillRect(barL, 314, barR - barL, 17);
    txt(ctx, '100bp', 1977, 373, `38px ${SANS}`, 'center', '#111');

    // haplotype table
    const left = 238, col = 233, top = 370, rows = [0, 90, 180, 271, 361, 451];
    ctx.fillStyle = '#EEEEEE';
    ctx.fillRect(left, top + rows[1], col * 7, rows[2] - rows[1]);
    ctx.fillRect(left, top + rows[3], col * 7, rows[4] - rows[3]);
    ctx.strokeStyle = '#C4C4C4';
    ctx.lineWidth = 2;
    for (let n = 0; n <= 7; n++) {
      ctx.beginPath();
      ctx.moveTo(left + n * col, top);
      ctx.lineTo(left + n * col, top + rows[5]);
      ctx.stroke();
    }
    rows.forEach((r, n) => {
      ctx.strokeStyle = (n === 1 || n === 3 || n === 4) ? '#ABABAB' : '#C4C4C4';
      ctx.lineWidth = (n === 1 || n === 3 || n === 4) ? 4 : 2.5;
      ctx.beginPath();
      ctx.moveTo(left, top + r);
      ctx.lineTo(left + col * 7, top + r);
      ctx.stroke();
    });
    snpSites.forEach((s, n) => txt(ctx, String(s), left + col * (n + 1.5), 417, `50px ${SANS}`, 'center', '#111'));
    hapNames.forEach((h, r) => {
      txt(ctx, h, 254, [502, 592, 683, 773][r], `50px ${SANS}`, 'left', '#111');
      hapAlleles[r].forEach((a, n) => txt(ctx, a, left + col * (n + 1.5), [507, 598, 688, 778][r], `50px ${SANS}`, 'center', '#111'));
    });
    txt(ctx, 'Ref', 182, 511, `49px ${SANS}`, 'center', '#111');
  }
};

new Chart(document.getElementById('gene'), {
  type: 'bar',
  data: {
    labels: ['gene'],
    datasets: exonStart.map((s, n) => ({
      data: [[s, exonEnd[n]]], backgroundColor: exonFill, barThickness: 96, borderColor: '#9DB89D', borderWidth: 1, borderSkipped: false
    })).concat([{ data: [geneSpan], backgroundColor: intronFill, barThickness: 18 }])
  },
  options: Object.assign(baseOptions({ left: 33, top: 100, right: 125, bottom: 588 }), {
    indexAxis: 'y',
    datasets: { bar: { grouped: false } },
    scales: {
      x: { type: 'linear', min: geneSpan[1], max: geneSpan[0], reverse: true, display: false },
      y: { display: false }
    }
  }),
  plugins: [genePlugin]
});

// ---- panel (d) chart ----
const boxPlugin = {
  id: 'dwrBoxes',
  afterDatasetsDraw(chart) {
    const { ctx, scales: { x, y } } = chart;
    ctx.save();
    ctx.strokeStyle = '#000';
    dwrGroups.forEach((g, n) => {
      const cx = x.getPixelForValue(n);
      const yv = v => y.getPixelForValue(v);
      ctx.lineWidth = 9;
      ctx.beginPath();
      ctx.moveTo(cx, yv(dwrHigh[n])); ctx.lineTo(cx, yv(dwrQ3[n]));
      ctx.moveTo(cx, yv(dwrQ1[n])); ctx.lineTo(cx, yv(dwrLow[n]));
      ctx.moveTo(cx - 31, yv(dwrHigh[n])); ctx.lineTo(cx + 31, yv(dwrHigh[n]));
      ctx.moveTo(cx - 31, yv(dwrLow[n])); ctx.lineTo(cx + 31, yv(dwrLow[n]));
      ctx.stroke();
      ctx.lineWidth = 8;
      ctx.strokeRect(cx - 55, yv(dwrQ3[n]), 110, yv(dwrQ1[n]) - yv(dwrQ3[n]));
      ctx.beginPath();
      ctx.moveTo(cx - 55, yv(dwrMedian[n])); ctx.lineTo(cx + 55, yv(dwrMedian[n]));
      ctx.stroke();
    });
    ctx.restore();
    txt(ctx, 'a', x.getPixelForValue(0), 73, `52px ${SANS}`, 'center', '#111');
    txt(ctx, 'a', x.getPixelForValue(1), 122, `52px ${SANS}`, 'center', '#111');
  }
};

new Chart(document.getElementById('dwr'), {
  type: 'scatter',
  data: {
    datasets: [
      { data: dwrRef.map(toXY), backgroundColor: '#000', pointStyle: 'circle', pointRadius: 7.5, borderWidth: 0, clip: false },
      { data: dwrAlt.map(toXY), backgroundColor: '#000', pointStyle: 'rect', pointRadius: 10.6, borderWidth: 0, clip: false }
    ]
  },
  options: Object.assign(baseOptions({ left: 0, top: 34, right: 54, bottom: 0 }), {
    scales: {
      x: {
        type: 'linear', min: -0.668, max: 1.684,
        afterFit(s) { s.height = 112; },
        afterBuildTicks(s) { s.ticks = [{ value: 0 }, { value: 1 }]; },
        grid: { drawOnChartArea: false, tickLength: 30, tickWidth: 6, tickColor: '#000' },
        border: { color: '#000', width: 6 },
        ticks: { padding: 8, color: '#000', font: { family: SANS, size: 48, weight: 'bold' }, callback: v => dwrGroups[v], maxRotation: 0 }
      },
      y: {
        type: 'linear', min: 0.4, max: 0.9,
        afterFit(s) { s.width = 206; },
        grid: { drawOnChartArea: false, tickLength: 26, tickWidth: 6, tickColor: '#000' },
        border: { color: '#000', width: 6 },
        ticks: { stepSize: 0.1, padding: 8, color: '#000', font: { family: SANS, size: 47, weight: 'bold' }, callback: v => v.toFixed(1) },
        title: { display: true, text: 'Value of DWR', color: '#000', padding: { top: 18, bottom: 0 }, font: { family: SANS, size: 53, weight: 'bold' } }
      }
    }
  }),
  plugins: [boxPlugin]
});
</script>
</body>
</html>
